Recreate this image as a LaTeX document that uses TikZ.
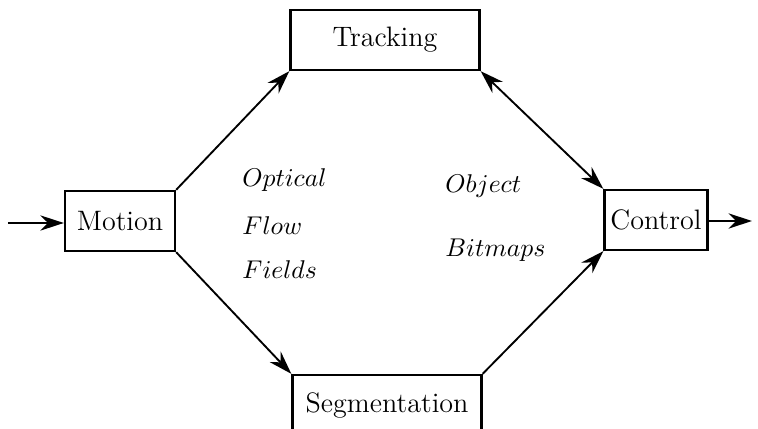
\documentclass[tikz,border=0pt]{standalone}
\usepackage{tikz}
\usetikzlibrary{arrows.meta, positioning}
\usepackage{amsmath, amssymb}

\begin{document}
\begin{tikzpicture}[x=0.015cm, y=-0.015cm, font=\fontsize{12}{14}\selectfont,
    block/.style={draw, line width=1pt, minimum height=0.9cm, inner sep=2pt},
    flow/.style={line width=0.8pt, -{Stealth[length=10pt, width=6.5pt]}},
    note/.style={anchor=west, inner sep=0pt, font=\fontsize{11}{13}\selectfont}]
  \useasboundingbox (0,0) rectangle (758,429);

  % boxes
  \node[block, minimum width=1.65cm] (mot) at (120,221) {Motion};
  \node[block, minimum width=2.835cm] (trk) at (385,40) {Tracking};
  \node[block, minimum width=2.835cm] (seg) at (387,405) {Segmentation};
  \node[block, minimum width=1.545cm] (ctl) at (656,220) {Control};

  \coordinate (entry) at (8,223);
  \coordinate (exit) at (752,221);

  % labels
  \node[note] (opt) at (242,180) {$Optical$};
  \node[note] (flw) at (242,226) {$Flow$};
  \node[note] (fld) at (242,270) {$Fields$};
  \node[note] (obj) at (445,186) {$Object$};
  \node[note] (bmp) at (445,250) {$Bitmaps$};

  % connectors
  \draw[flow] (entry) -- (entry -| mot.west);
  \draw[flow] (mot.north east) -- (trk.south west);
  \draw[flow] (mot.south east) -- (seg.north west);
  \draw[flow, {Stealth[length=10pt, width=6.5pt]}-{Stealth[length=10pt, width=6.5pt]}] (trk.south east) -- (ctl.north west);
  \draw[flow] (seg.north east) -- (ctl.south west);
  \draw[flow] (ctl.east |- exit) -- (exit);
\end{tikzpicture}
\end{document}
